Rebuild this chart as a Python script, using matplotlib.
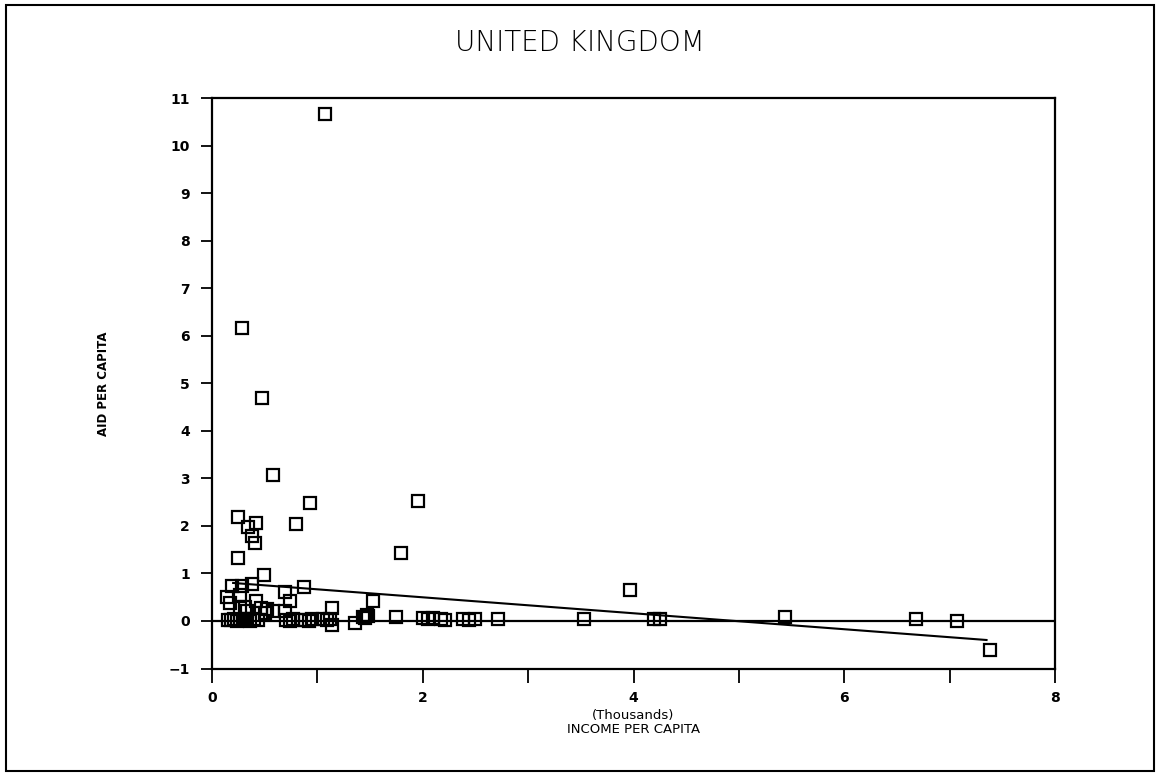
import matplotlib.pyplot as plt
from matplotlib.patches import Rectangle

# income per capita (thousands) and aid per capita
income = [1.07, 0.28, 0.47, 0.58, 0.93, 1.95, 1.79, 3.97,
          0.80, 0.25, 0.42, 0.34, 0.38, 0.41, 0.25, 0.49,
          0.19, 0.28, 0.38, 0.87, 0.69, 1.53, 0.14, 0.27, 0.74, 0.42,
          0.17, 1.14, 0.69, 0.46, 0.27, 0.33, 0.58, 0.50, 1.47, 1.43,
          1.14, 1.36, 0.31, 0.52,
          0.15, 0.18, 0.21, 0.24, 0.27, 0.30, 0.33, 0.36, 0.40, 0.44,
          0.70, 0.74, 0.77, 0.84, 0.88, 0.92, 0.95, 1.05, 1.09, 1.12,
          1.45, 1.48, 1.75, 2.00, 2.05, 2.10, 2.17, 2.21, 2.38, 2.44,
          2.50, 2.71, 3.53, 4.19, 4.25, 5.44, 6.68, 7.07, 7.38]
aid = [10.67, 6.17, 4.69, 3.06, 2.48, 2.53, 1.43, 0.65,
       2.04, 2.18, 2.07, 1.97, 1.79, 1.64, 1.33, 0.97,
       0.74, 0.74, 0.78, 0.72, 0.60, 0.41, 0.50, 0.55, 0.41, 0.41,
       0.37, 0.27, 0.22, 0.27, 0.27, 0.20, 0.20, 0.17, 0.13, 0.08,
       -0.08, -0.05, 0.30, 0.25,
       0.03, 0.02, 0.04, 0.01, 0.03, 0.02, 0.04, 0.01, 0.05, 0.03,
       0.03, 0.01, 0.04, 0.02, 0.03, 0.01, 0.04, 0.05, 0.02, 0.04,
       0.07, 0.10, 0.09, 0.06, 0.05, 0.07, 0.04, 0.03, 0.04, 0.03,
       0.05, 0.04, 0.05, 0.04, 0.05, 0.09, 0.05, 0.01, -0.62]

# fitted trend line end points
fit_x = [0.20, 7.35]
fit_y = [0.80, -0.40]

fig = plt.figure(figsize=(11.6, 7.76), dpi=100)
ax = fig.add_axes([0.1828, 0.1385, 0.7267, 0.7352])

ax.plot(income, aid, linestyle="none", marker="s", markersize=8,
        markerfacecolor="none", markeredgecolor="black", markeredgewidth=1.6)
ax.plot(fit_x, fit_y, color="black", linewidth=1.5)
ax.axhline(0, color="black", linewidth=1.6)

ax.set_xlim(0, 8)
ax.set_ylim(-1, 11)
ax.set_xticks([0, 2, 4, 6, 8])
ax.set_xticks([1, 3, 5, 7], minor=True)
ax.set_yticks(range(-1, 12))
ax.tick_params(axis="x", which="both", direction="out", length=10, width=1.3, pad=6)
ax.tick_params(axis="y", direction="out", length=8, width=1.3, pad=8)
for lab in ax.get_xticklabels() + ax.get_yticklabels():
    lab.set_fontsize(10)
    lab.set_fontweight("bold")
for s in ax.spines.values():
    s.set_linewidth(1.6)

ax.set_xlabel("(Thousands)\nINCOME PER CAPITA", fontsize=9.5, labelpad=3,
              linespacing=1.15)
ax.set_ylabel("AID PER CAPITA", fontsize=8.5, fontweight="bold", labelpad=42)

fig.text(0.5, 0.945, "UNITED KINGDOM", ha="center", va="center",
         fontsize=20, fontweight="light")

fig.patches.append(Rectangle((0.005, 0.006), 0.99, 0.988, transform=fig.transFigure,
                             fill=False, edgecolor="black", linewidth=1.5))

fig.savefig("out.png", dpi=100)
